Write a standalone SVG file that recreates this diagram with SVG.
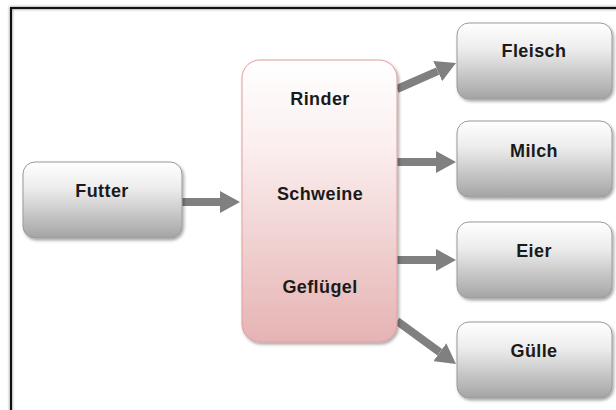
<svg xmlns="http://www.w3.org/2000/svg" width="616" height="410" viewBox="0 0 616 410">
  <defs>
    <linearGradient id="gradGray" x1="0" y1="0" x2="0" y2="1">
      <stop offset="0" stop-color="#ffffff"/>
      <stop offset="0.35" stop-color="#ececec"/>
      <stop offset="1" stop-color="#a4a4a4"/>
    </linearGradient>
    <linearGradient id="gradPink" x1="0" y1="0" x2="0" y2="1">
      <stop offset="0" stop-color="#ffffff"/>
      <stop offset="0.3" stop-color="#fbefef"/>
      <stop offset="1" stop-color="#e6b3b3"/>
    </linearGradient>
    <filter id="shadow" x="-10%" y="-10%" width="125%" height="130%">
      <feDropShadow dx="1.5" dy="2" stdDeviation="1.5" flood-color="#000" flood-opacity="0.35"/>
    </filter>
    <filter id="frameGlow" x="-5%" y="-5%" width="110%" height="110%">
      <feGaussianBlur stdDeviation="1.2"/>
    </filter>
    <marker id="head" markerUnits="userSpaceOnUse" markerWidth="20" markerHeight="22" refX="0" refY="11" orient="auto">
      <path d="M0,0 L20,11 L0,22 z" fill="#808080"/>
    </marker>
  </defs>
  <style>
    .box { fill: url(#gradGray); stroke: #9a9a9a; stroke-width: 1; filter: url(#shadow); }
    .hub { fill: url(#gradPink); stroke: #e29c9c; stroke-width: 1; filter: url(#shadow); }
    .label { font-family: "Liberation Sans", Arial, sans-serif; font-size: 18px; font-weight: bold; fill: #1a1a1a; text-anchor: middle; letter-spacing: 0.4px; }
    .link { stroke: #808080; stroke-width: 8; fill: none; marker-end: url(#head); }
  </style>

  <rect width="616" height="410" fill="#ffffff"/>

  <!-- outer frame -->
  <rect x="11" y="8" width="640" height="440" fill="none" stroke="#9a9a9a" stroke-width="3" filter="url(#frameGlow)"/>
  <rect x="11" y="8" width="640" height="440" fill="none" stroke="#111111" stroke-width="2"/>

  <!-- connectors -->
  <g id="connectors">
    <line class="link" x1="182" y1="202" x2="220" y2="202"/>
    <line class="link" x1="397" y1="89" x2="437.7" y2="71.1"/>
    <line class="link" x1="397" y1="162" x2="436" y2="162"/>
    <line class="link" x1="397" y1="260" x2="436" y2="260"/>
    <line class="link" x1="397" y1="321" x2="439.8" y2="352.2"/>
  </g>

  <g id="futter">
    <rect class="box" x="23" y="162" width="159" height="76" rx="12"/>
    <text class="label" x="102" y="197">Futter</text>
  </g>

  <g id="tiere">
    <rect class="hub" x="242" y="60" width="155" height="282" rx="18"/>
    <text class="label" x="320" y="105">Rinder</text>
    <text class="label" x="320" y="200">Schweine</text>
    <text class="label" x="320" y="293">Geflügel</text>
  </g>

  <g id="fleisch">
    <rect class="box" x="457" y="23" width="155" height="76" rx="12"/>
    <text class="label" x="534" y="57">Fleisch</text>
  </g>

  <g id="milch">
    <rect class="box" x="457" y="121" width="155" height="76" rx="12"/>
    <text class="label" x="534" y="157">Milch</text>
  </g>

  <g id="eier">
    <rect class="box" x="457" y="222" width="155" height="76" rx="12"/>
    <text class="label" x="534" y="257">Eier</text>
  </g>

  <g id="guelle">
    <rect class="box" x="457" y="322" width="155" height="76" rx="12"/>
    <text class="label" x="534" y="357">Gülle</text>
  </g>
</svg>
